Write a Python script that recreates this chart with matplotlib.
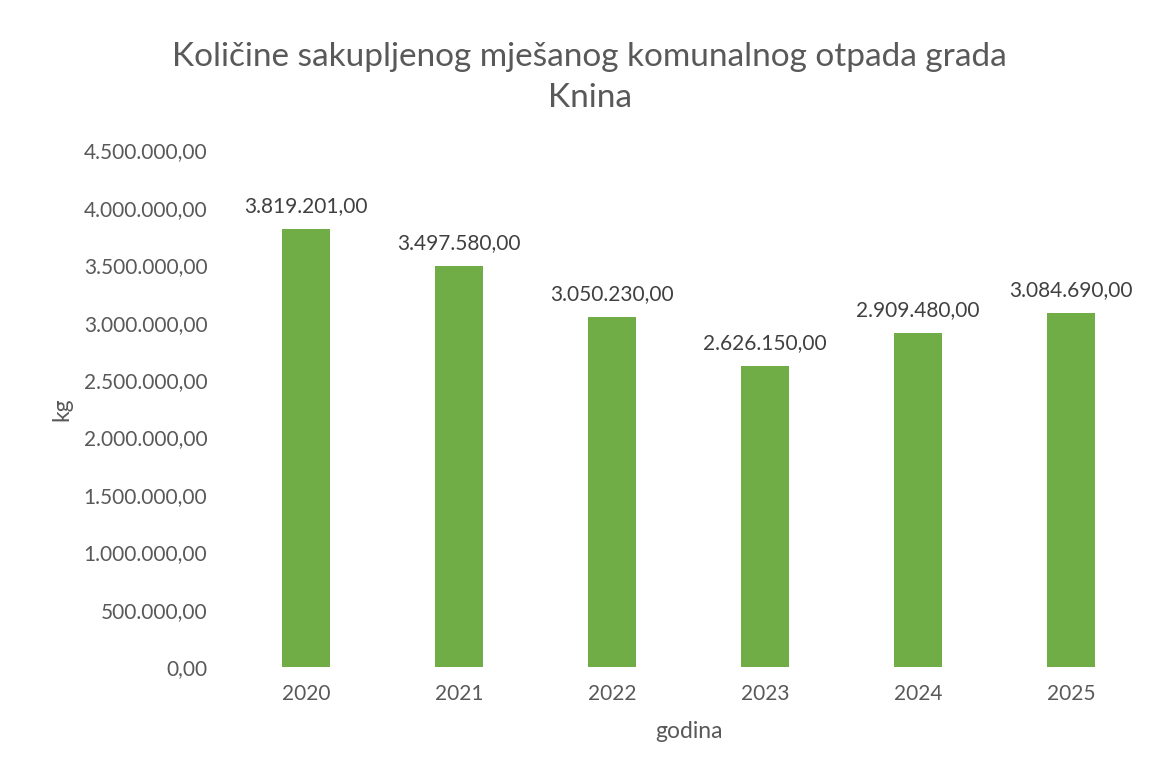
import matplotlib
matplotlib.use("Agg")
import matplotlib.pyplot as plt
from matplotlib.ticker import FuncFormatter

years = ["2020", "2021", "2022", "2023", "2024", "2025"]
values = [3819201.00, 3497580.00, 3050230.00, 2626150.00, 2909480.00, 3084690.00]
yticks = [0, 500000, 1000000, 1500000, 2000000, 2500000, 3000000, 3500000, 4000000, 4500000]

def fmt(v):
    s = f"{v:,.2f}"
    return s.replace(",", "X").replace(".", ",").replace("X", ".")

plt.rcParams['font.family'] = ['Lato', 'DejaVu Sans']
gray = "#595959"

fig = plt.figure(figsize=(11.68, 7.75), dpi=100)
ax = fig.add_axes([0.1965, 0.139, 0.786, 0.667])

x = list(range(len(years)))
bars = ax.bar(x, values, width=0.31, color="#70AD47")
for xi, v in zip(x, values):
    ax.annotate(fmt(v), (xi, v), xytext=(0, 9), textcoords="offset points",
                ha="center", va="bottom", fontsize=15, color="#404040")

ax.set_xlim(-0.5, len(years) - 0.5)
ax.set_ylim(0, 4500000)
ax.set_yticks(yticks)
ax.yaxis.set_major_formatter(FuncFormatter(lambda v, p: fmt(v)))
ax.set_xticks(x)
ax.set_xticklabels(years)
ax.tick_params(axis='both', length=0, labelsize=15, labelcolor=gray)
ax.tick_params(axis='y', pad=16)
ax.tick_params(axis='x', pad=12)
for s in ax.spines.values():
    s.set_visible(False)

ax.set_xlabel("godina", fontsize=16.5, color=gray, labelpad=12)
ax.set_ylabel("kg", fontsize=16.5, color=gray, labelpad=8)

fig.text(0.505, 0.900, "Količine sakupljenog mješanog komunalnog otpada grada\nKnina",
         ha="center", va="center", fontsize=24, color=gray, linespacing=1.45)

fig.savefig("out.png", dpi=100, facecolor="white")
